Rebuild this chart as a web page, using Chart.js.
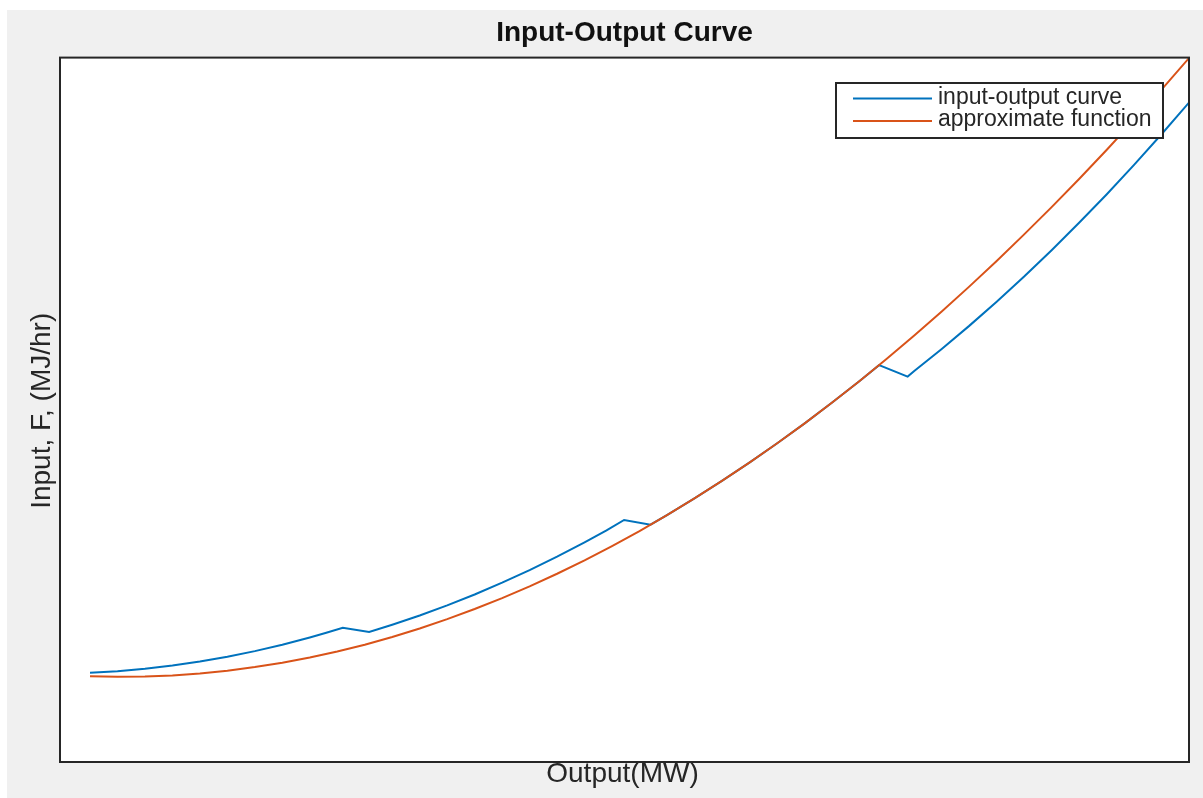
<!DOCTYPE html>
<html>
<head>
<meta charset="utf-8">
<title>Input-Output Curve</title>
<script src="https://cdn.jsdelivr.net/npm/chart.js@4.4.1/dist/chart.umd.min.js"></script>
<style>
  html, body { margin: 0; padding: 0; background: #ffffff; overflow: hidden; }
  canvas { display: block; }
</style>
</head>
<body>
<canvas id="chart" width="1203" height="798"></canvas>
<script>
// Output (MW) and fuel input (MJ/hr) of the unit

// quadratic approximation, sampled every 12.5 MW
const approxOutput = [100, 112.5, 125, 137.5, 150, 162.5, 175, 187.5, 200, 212.5, 225,
                      237.5, 250, 262.5, 275, 287.5, 300, 312.5, 325, 337.5, 350,
                      362.5, 375, 387.5, 400, 412.5, 425, 437.5, 450, 462.5, 475,
                      487.5, 500, 512.5, 525, 537.5, 550, 562.5, 575, 587.5, 600];
const approxInput  = [851, 846, 849, 860, 880, 907, 943, 986, 1038, 1098, 1166,
                      1243, 1327, 1420, 1520, 1629, 1746, 1871, 2004, 2146, 2295,
                      2453, 2619, 2793, 2975, 3165, 3363, 3570, 3784, 4007, 4238,
                      4477, 4724, 4979, 5243, 5514, 5794, 6082, 6378, 6682, 6995];

// measured input-output curve with valve-point steps
const curveOutput = [100, 112.5, 125, 137.5, 150, 162.5, 175, 187.5, 200, 207.5, 215,
                     227, 237.5, 250, 262.5, 275, 287.5, 300, 312.5, 325, 335, 343,
                     355, 362.5, 375, 387.5, 400, 412.5, 425, 437.5, 450, 459,
                     472, 475, 487.5, 500, 512.5, 525, 537.5, 550, 562.5, 575, 587.5, 600];
const curveInput  = [887, 903, 927, 958, 998, 1046, 1102, 1165, 1237, 1284, 1334,
                     1292, 1364, 1456, 1557, 1665, 1782, 1907, 2040, 2182, 2301, 2405,
                     2358, 2453, 2619, 2793, 2975, 3165, 3363, 3570, 3784, 3944,
                     3830, 3886, 4105, 4334, 4574, 4824, 5086, 5358, 5640, 5934, 6238, 6553];

const seriesNames = ['input-output curve', 'approximate function'];
const seriesColors = ['#0072BD', '#D95319'];

const toPoints = (xs, ys) => xs.map((x, i) => ({ x: x, y: ys[i] }));

const FONT = '"Liberation Sans", Arial, Helvetica, sans-serif';
const TEXT = '#262626';

// figure background, axes box, axis labels and boxed legend
const figurePlugin = {
  id: 'figureDecor',
  beforeDraw(chart) {
    const ctx = chart.ctx;
    const a = chart.chartArea;
    ctx.save();
    ctx.fillStyle = '#ffffff';
    ctx.fillRect(0, 0, chart.width, chart.height);
    ctx.fillStyle = '#f0f0f0';
    ctx.fillRect(7, 10, chart.width - 7, chart.height - 10);
    ctx.fillStyle = '#ffffff';
    ctx.fillRect(a.left, a.top, a.right - a.left, a.bottom - a.top);
    ctx.restore();
  },
  afterDraw(chart) {
    const ctx = chart.ctx;
    const a = chart.chartArea;
    ctx.save();

    // axes box
    ctx.strokeStyle = TEXT;
    ctx.lineWidth = 2;
    ctx.strokeRect(a.left, a.top, a.right - a.left, a.bottom - a.top);

    // axis labels
    ctx.fillStyle = TEXT;
    ctx.font = '28px ' + FONT;
    ctx.textAlign = 'center';
    ctx.textBaseline = 'alphabetic';
    ctx.fillText('Output(MW)', (a.left + a.right) / 2 - 2, 782);

    ctx.save();
    ctx.translate(50, (a.top + a.bottom) / 2 + 1);
    ctx.rotate(-Math.PI / 2);
    ctx.fillText('Input, F, (MJ/hr)', 0, 0);
    ctx.restore();

    // legend
    const bx = 836, by = 83, bw = 327, bh = 55;
    ctx.fillStyle = '#ffffff';
    ctx.fillRect(bx, by, bw, bh);
    ctx.strokeStyle = TEXT;
    ctx.lineWidth = 2;
    ctx.strokeRect(bx, by, bw, bh);

    const rows = [98.5, 121];
    const baselines = [103.5, 125.5];
    chart.data.datasets.forEach((ds, i) => {
      ctx.strokeStyle = ds.borderColor;
      ctx.lineWidth = 2;
      ctx.beginPath();
      ctx.moveTo(853, rows[i]);
      ctx.lineTo(932, rows[i]);
      ctx.stroke();
      ctx.fillStyle = TEXT;
      ctx.font = '23px ' + FONT;
      ctx.textAlign = 'left';
      ctx.textBaseline = 'alphabetic';
      ctx.fillText(ds.label, 938, baselines[i]);
    });

    ctx.restore();
  }
};

new Chart(document.getElementById('chart'), {
  type: 'line',
  data: {
    datasets: [
      {
        label: seriesNames[0],
        data: toPoints(curveOutput, curveInput),
        borderColor: seriesColors[0],
        borderWidth: 2,
        pointRadius: 0,
        tension: 0,
        fill: false,
        order: 1
      },
      {
        label: seriesNames[1],
        data: toPoints(approxOutput, approxInput),
        borderColor: seriesColors[1],
        borderWidth: 2,
        pointRadius: 0,
        tension: 0,
        fill: false,
        order: 0
      }
    ]
  },
  options: {
    responsive: false,
    animation: false,
    devicePixelRatio: 1,
    layout: { padding: { left: 60, right: 14, top: 0, bottom: 36 } },
    scales: {
      x: { type: 'linear', min: 86.35, max: 600, display: false },
      y: { type: 'linear', min: 0, max: 7000, display: false }
    },
    plugins: {
      legend: { display: false },
      tooltip: { enabled: false },
      title: {
        display: true,
        text: 'Input-Output Curve',
        color: '#111111',
        font: { family: FONT, size: 28, weight: 'bold', lineHeight: 1.2 },
        padding: { top: 16, bottom: 8 }
      }
    }
  },
  plugins: [figurePlugin]
});
</script>
</body>
</html>
